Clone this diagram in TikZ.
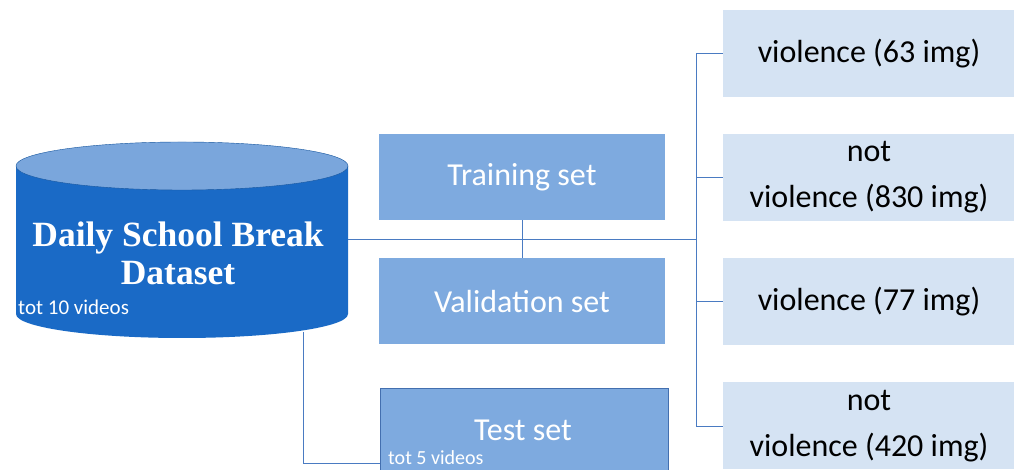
\documentclass[tikz,border=0pt]{standalone}
\usepackage{fontspec}
\setmainfont{Carlito}
\newfontfamily\titlefont{Liberation Serif}
\usepackage{tikz}
\usetikzlibrary{positioning}

\definecolor{dbbody}{HTML}{1A6AC6}
\definecolor{dbtop}{HTML}{7AA6DC}
\definecolor{setfill}{HTML}{7EAADF}
\definecolor{classfill}{HTML}{D5E3F3}
\definecolor{linkblue}{HTML}{4A7BC2}

\begin{document}
\begin{tikzpicture}[x=1pt,y=1pt,
    setbox/.style={rectangle,fill=setfill,minimum width=286,minimum height=86,
        text=white,font=\fontsize{32}{38}\selectfont,inner sep=0pt},
    classbox/.style={rectangle,fill=classfill,minimum width=292,minimum height=87,
        text=black,align=center,font=\fontsize{32}{46}\selectfont,inner sep=0pt},
    link/.style={draw=linkblue,line width=0.8pt}]
        \clip (0,0) rectangle (1014,470);
        \fill[white] (0,0) rectangle (1014,470);

        % 数据库圆柱
        \fill[dbbody] (16,304) -- (16,156)
            arc[start angle=180,end angle=360,x radius=166,y radius=24]
            -- (348,304) -- cycle;
        \fill[dbtop,draw=dbbody!80!black,line width=0.4pt] (182,304) ellipse[x radius=166,y radius=24];
        \node[minimum width=332,minimum height=148,inner sep=0pt] (db) at (182,231) {};
        \node[text=white,align=center,font=\titlefont\bfseries\fontsize{35.5}{38}\selectfont] (dbname) at (178,217)
            {Daily School Break\\Dataset};
        \node[anchor=west,text=white,font=\fontsize{21}{24}\selectfont,inner sep=0pt] (dbtot) at (18,163) {tot 10 videos};
        \coordinate (dbfoot) at (303,138);

        % 数据划分
        \node[setbox] (train) at (522,293) {Training set};
        \node[setbox] (valid) at (522,168.5) {Validation set};
        \node[setbox,draw=linkblue!90!black,line width=0.6pt,minimum width=288,minimum height=90] (test) at (524,37) {};
        \node[text=white,font=\fontsize{32}{38}\selectfont] (testname) at (523,40) {Test set};
        \node[anchor=base west,text=white,font=\fontsize{20}{24}\selectfont,inner sep=0pt] (testtot) at (388,5) {tot 5 videos};

        % 类别
        \node[classbox] (v1) at (869,416.5) {violence (63 img)};
        \node[classbox] (v2) at (869,292.5) {not\\violence (830 img)};
        \node[classbox] (v3) at (869,168.5) {violence (77 img)};
        \node[classbox] (v4) at (869,44) {not\\violence (420 img)};

        % 连线
        \coordinate (hub) at (696,231);
        \draw[link] (db.east) -- (hub);
        \draw[link] (train.south) -- (valid.north);
        \draw[link] (v1.west -| hub) -- (v4.west -| hub);
        \foreach \c in {v1,v2,v3,v4}
            \draw[link] (\c.west) -- (\c.west -| hub);
        \draw[link] (dbfoot) |- ([yshift=-30]test.west);
\end{tikzpicture}
\end{document}
